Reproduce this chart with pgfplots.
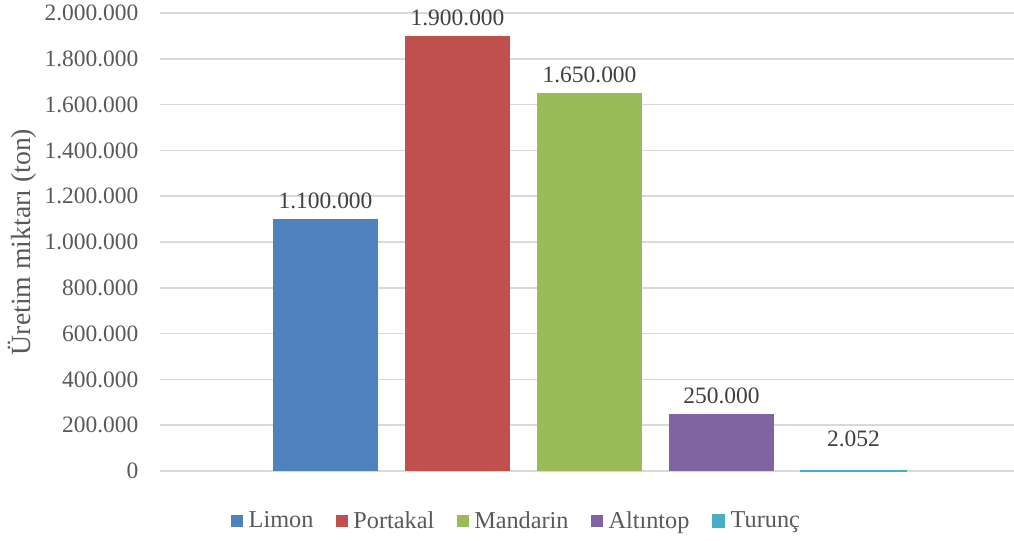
\documentclass[border=0pt]{standalone}
\usepackage{pgfplots}
\pgfplotsset{compat=1.18}
\usepackage{fontspec}
\setmainfont{Liberation Serif}
\definecolor{cLimon}{HTML}{4F81BD}
\definecolor{cPortakal}{HTML}{C0504D}
\definecolor{cMandarin}{HTML}{9BBB59}
\definecolor{cAltintop}{HTML}{8064A2}
\definecolor{cTurunc}{HTML}{4BACC6}
\definecolor{tickgray}{HTML}{595959}
\definecolor{labelgray}{HTML}{404040}
\definecolor{gridgray}{HTML}{D9D9D9}
\begin{document}
\begin{tikzpicture}
\useasboundingbox (-120pt,-51.75pt) rectangle (640.5pt,353.25pt);
\begin{axis}[
  at={(0,0)}, anchor=south west,
  scale only axis, width=640.5pt, height=343.5pt,
  xmin=-1.254, xmax=5.2157,
  ymin=0, ymax=2000000,
  ytick={0,200000,400000,600000,800000,1000000,1200000,1400000,1600000,1800000,2000000},
  xtick=\empty,
  scaled y ticks=false,
  /pgf/number format/fixed, /pgf/number format/1000 sep={.}, /pgf/number format/assume math mode=true,
  yticklabel style={font=\fontsize{17.6}{20}\selectfont, text=tickgray, anchor=east, inner sep=0pt, xshift=-16pt},
  major tick length=0pt,
  axis line style={draw=none},
  ymajorgrids, grid style={gridgray, line width=1.1pt},
  ybar, bar width=78.75pt, bar shift=0pt,
  nodes near coords,
  nodes near coords style={font=\fontsize{17.6}{20}\selectfont, text=labelgray, yshift=4pt, /pgf/number format/fixed, /pgf/number format/1000 sep={.}, /pgf/number format/assume math mode=true},
  ylabel={Üretim miktarı (ton)},
  ylabel style={at={(axis description cs:-0.1616,0.5)}, anchor=center, font=\fontsize{20.8}{24}\selectfont, text=tickgray},
  legend columns=5,
  legend image code/.code={\fill[#1] (0pt,-4.5pt) rectangle (9pt,4.5pt);},
  legend style={at={(axis description cs:0.418,-0.109)}, anchor=center, draw=none, fill=none,
    font=\fontsize{18.2}{21}\selectfont, text=tickgray,
    nodes={inner xsep=2pt},
    /tikz/every odd column/.append style={column sep=2pt},
    /tikz/every even column/.append style={column sep=15pt}},
]
\addplot[fill=cLimon, draw=none] coordinates {(0,1100000)};
\addplot[fill=cPortakal, draw=none] coordinates {(1,1900000)};
\addplot[fill=cMandarin, draw=none] coordinates {(2,1650000)};
\addplot[fill=cAltintop, draw=none] coordinates {(3,250000)};
\addplot[fill=cTurunc, draw=cTurunc, line width=0.9pt, nodes near coords style={yshift=10pt}] coordinates {(4,2052)};
\legend{Limon,Portakal,Mandarin,Altıntop,Turunç}
\end{axis}
\end{tikzpicture}
\end{document}
